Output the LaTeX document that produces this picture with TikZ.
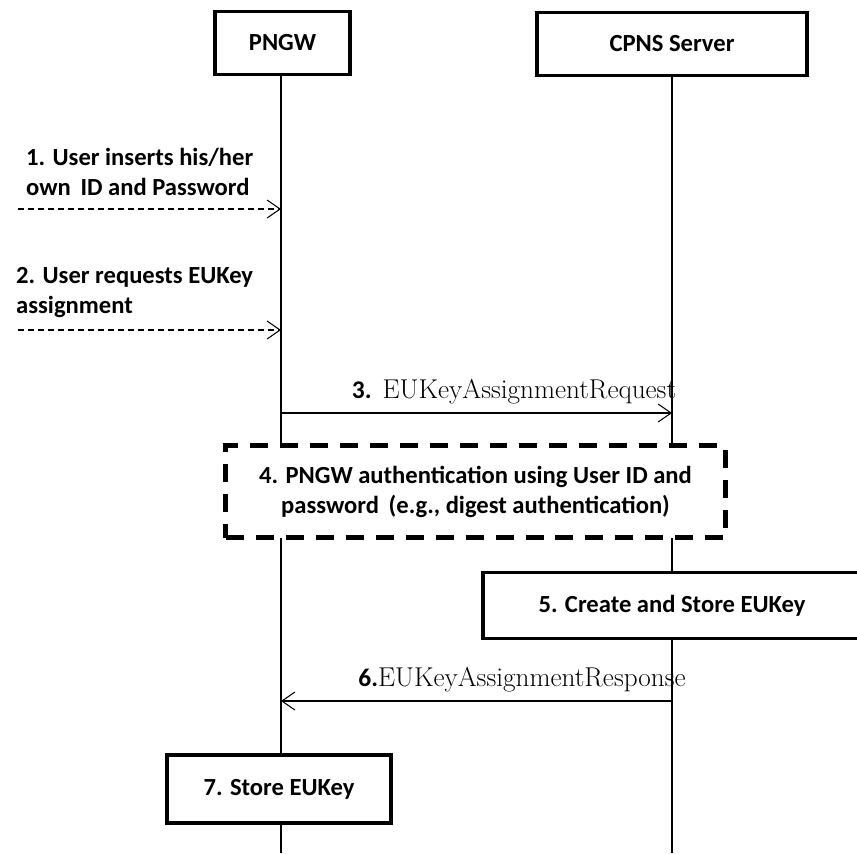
\documentclass[tikz,border=0pt]{standalone}
\usepackage{fontspec}
\usepackage{tikz}
\usetikzlibrary{arrows.meta}
\newfontfamily\carlito{Carlito}
\newcommand{\numero}[1]{{\carlito\bfseries\fontsize{14.5}{17}\selectfont #1}}

\tikzset{
  rotulo/.style={font=\carlito\bfseries\fontsize{14}{17}\selectfont, align=center},
  entidade/.style={rotulo, draw, line width=2.2pt, fill=white, minimum height=1.26cm},
  passo/.style={rotulo, draw, line width=2.2pt, fill=white, minimum height=1.32cm},
  verifica/.style={rotulo, draw, line width=2.8pt, fill=white, dash pattern=on 0.36cm off 0.24cm, minimum width=10cm, minimum height=1.84cm},
  vida/.style={line width=0.7pt},
  msg/.style={line width=0.6pt, -{Straight Barb[length=2.6mm,width=3.6mm]}},
  usuario/.style={msg, dash pattern=on 1.2mm off 0.8mm},
  nome/.style={font=\fontsize{15.5}{18}\selectfont}
}

\begin{document}
\begin{tikzpicture}[x=0.02cm, y=-0.02cm]
        \useasboundingbox (0,0) rectangle (857,853);

        % Entidades
        \node[entidade, minimum width=2.7cm] (pngw) at (282.5,43) {PNGW};
        \node[entidade, minimum width=5.4cm] (cpns) at (672,44) {CPNS Server};
        \coordinate (pngwfim) at (281,853);
        \coordinate (cpnsfim) at (672,853);
        \draw[vida] (pngw.south -| pngwfim) -- (pngwfim);
        \draw[vida] (cpns.south -| cpnsfim) -- (cpnsfim);

        % Mensagens do usuario
        \coordinate (u1) at (18,209);
        \coordinate (p1) at (281,209);
        \draw[usuario] (u1) -- (p1);
        \node[rotulo, align=left, anchor=south west] (t1) at (20,202) {1. User inserts his/her\\own\, ID and Password};

        \coordinate (u2) at (18,330);
        \coordinate (p2) at (281,330);
        \draw[usuario] (u2) -- (p2);
        \node[rotulo, align=left, anchor=south west] (t2) at (10,324) {2. User requests EUKey\\assignment};

        % Pedido
        \coordinate (p3) at (281,413);
        \coordinate (c3) at (672,413);
        \draw[msg] (p3) -- (c3);
        \node[nome, anchor=south] (t3) at (514,410) {\numero{3.} EUKeyAssignmentRequest};

        % Autenticacao
        \node[verifica] (auth) at (475.5,491.5) {4. PNGW authentication using User ID and\\password\, (e.g., digest authentication)};

        % Servidor
        \node[passo, minimum width=7.56cm] (cria) at (672,605.5) {5. Create and Store EUKey};

        % Resposta
        \coordinate (c6) at (672,701);
        \coordinate (p6) at (281,701);
        \draw[msg] (c6) -- (p6);
        \node[nome, anchor=south] (t6) at (522,698) {\numero{6.}EUKeyAssignmentResponse};

        % Gateway
        \node[passo, minimum width=4.48cm, minimum height=1.36cm] (guarda) at (279,789) {7. Store EUKey};
    \end{tikzpicture}
\end{document}
